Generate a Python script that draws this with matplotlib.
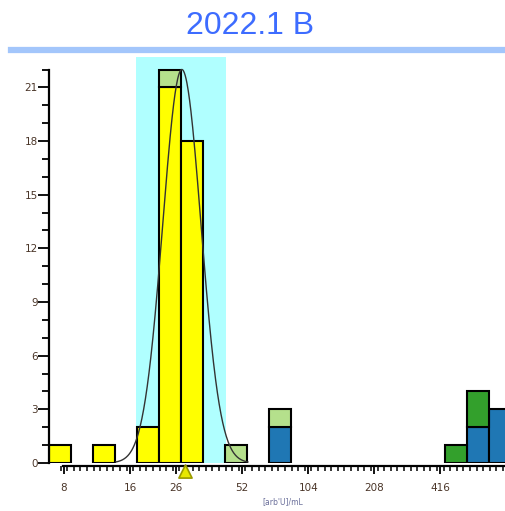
import numpy as np
import matplotlib
matplotlib.use('Agg')
import matplotlib.pyplot as plt
from matplotlib.ticker import FixedLocator, NullFormatter
from matplotlib.lines import Line2D

# histogram bins (lower edge, arb'U/mL), each bin is 1/3 of a doubling wide
bin_lo = [6.84, 10.85, 17.23, 21.71, 27.36, 43.43, 68.94, 437.8, 551.6, 694.9]
yellow = [1, 1, 2, 21, 18, 0, 0, 0, 0, 0]
blue = [0, 0, 0, 0, 0, 0, 2, 0, 2, 3]
light_green = [0, 0, 0, 1, 0, 1, 1, 0, 0, 0]
dark_green = [0, 0, 0, 0, 0, 0, 0, 1, 2, 0]

x_ticks = [8, 16, 26, 52, 104, 208, 416]
y_ticks = [0, 3, 6, 9, 12, 15, 18, 21]

# accepted range and fitted curve
range_lo, range_hi = 17.0, 43.9
fit_mean, fit_sd, fit_peak = 27.6, 0.29, 22.0  # sd in log2 units
marker_pos = 28.5

fig = plt.figure(figsize=(5.05, 5.11), dpi=100)
ax = fig.add_axes([49 / 505, 48 / 511, 456 / 505, 406 / 511])

ax.set_xscale('log', base=2)
ax.set_xlim(6.84, 821)
ax.set_ylim(0, 22.7)

ax.axvspan(range_lo, range_hi, color='#b0ffff', zorder=0, lw=0)

lo = np.array(bin_lo)
w = lo * (2 ** (1 / 3) - 1)
base = np.zeros(len(lo))
for vals, col in [(yellow, '#ffff00'), (blue, '#1f77b4'),
                  (light_green, '#b5e08c'), (dark_green, '#33a02c')]:
    v = np.array(vals, dtype=float)
    m = v > 0
    ax.bar(lo[m], v[m], width=w[m], bottom=base[m], align='edge',
           color=col, edgecolor='black', linewidth=1.5, zorder=2)
    base = base + v

xs = np.linspace(np.log2(fit_mean) - 1.0, np.log2(fit_mean) + 1.0, 300)
ys = fit_peak * np.exp(-(xs - np.log2(fit_mean)) ** 2 / (2 * fit_sd ** 2))
ax.plot(2 ** xs, ys, color='#333333', lw=1.0, zorder=3)

ax.scatter([marker_pos], [-0.02], marker='^', s=90, facecolor='#e8e800',
           edgecolor='#9a9a00', linewidth=1.2, transform=ax.get_xaxis_transform(),
           clip_on=False, zorder=5)

for s in ['top', 'right']:
    ax.spines[s].set_visible(False)
ax.spines['left'].set_bounds(0, 22)
ax.spines['left'].set_linewidth(1.6)
ax.spines['bottom'].set_position(('outward', 2.5))
ax.spines['bottom'].set_bounds(7.9, 821)
ax.spines['bottom'].set_linewidth(1.6)

tick_col = '#4a3528'
ax.yaxis.set_major_locator(FixedLocator(y_ticks))
ax.yaxis.set_minor_locator(FixedLocator(range(0, 23)))
ax.set_yticklabels([str(t) for t in y_ticks])
ax.tick_params(axis='y', which='major', length=8, width=1.3, pad=0,
               labelsize=7.5, labelcolor=tick_col)
ax.tick_params(axis='y', which='minor', length=5, width=1.3)

ax.xaxis.set_major_locator(FixedLocator(x_ticks))
ax.xaxis.set_minor_locator(FixedLocator(2 ** np.arange(2.95, 9.7, 0.1)))
ax.xaxis.set_minor_formatter(NullFormatter())
ax.set_xticklabels([str(t) for t in x_ticks])
ax.tick_params(axis='x', which='major', length=6, width=1.3, pad=6,
               labelsize=7.5, labelcolor=tick_col)
ax.tick_params(axis='x', which='minor', length=3.5, width=1.1)

ax.set_xlabel("[arb'U]/mL", fontsize=5.5, color='#6a6f9a')
ax.xaxis.set_label_coords(0.513, -0.085)

fig.text(250 / 505, 1 - 26.5 / 511, '2022.1 B', ha='center', va='center',
         fontsize=23, color='#3d6cff', family='Liberation Sans')
fig.add_artist(Line2D([11 / 505, 1.0], [1 - 50.5 / 511] * 2, color='#a3c6fb',
                      lw=4.5, transform=fig.transFigure))

fig.savefig('out.png', dpi=100)
